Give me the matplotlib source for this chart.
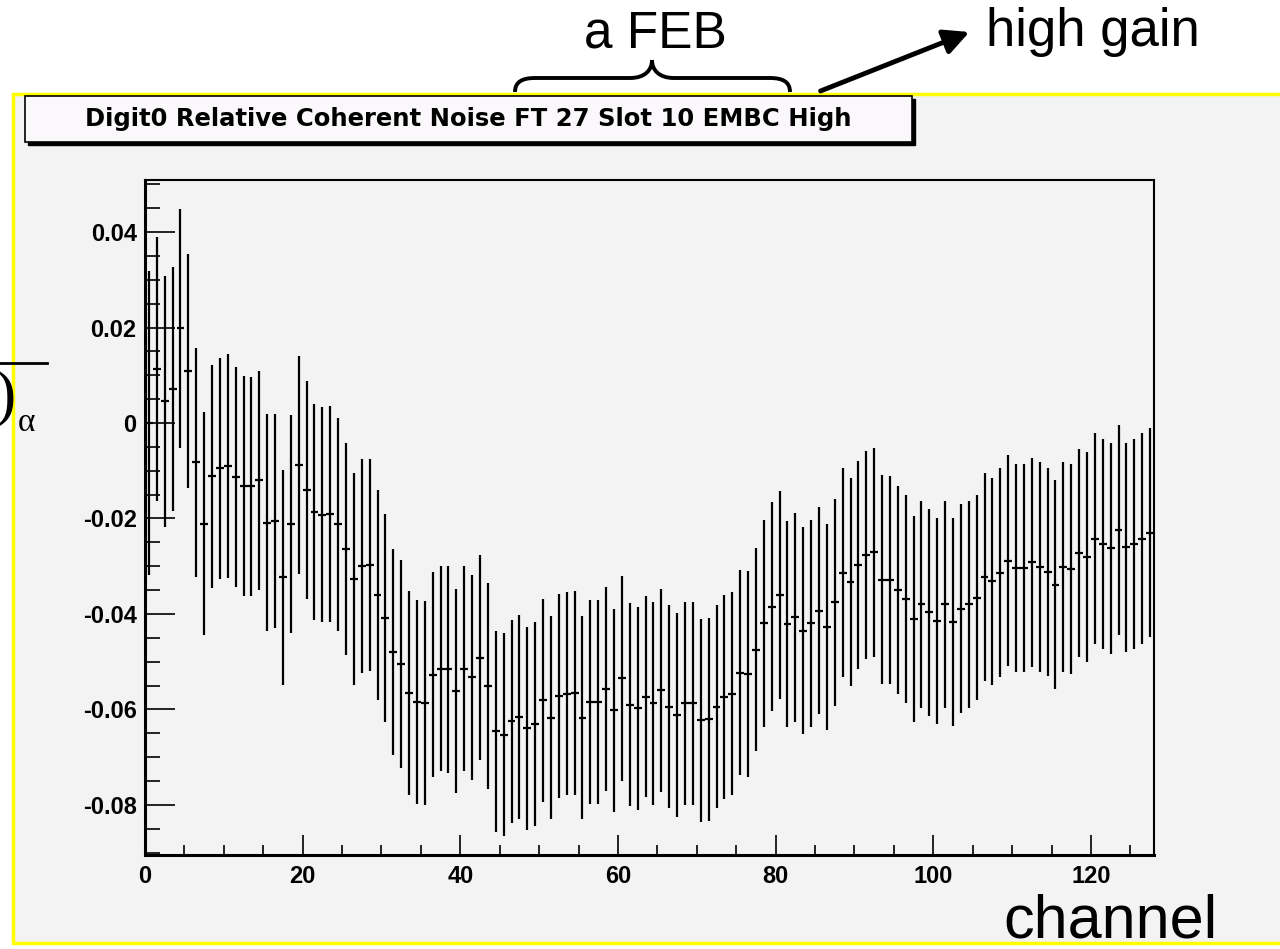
import numpy as np
import matplotlib
matplotlib.use("Agg")
import matplotlib.pyplot as plt
import matplotlib.patches as mpatches
from matplotlib.path import Path
from matplotlib.lines import Line2D
from matplotlib.ticker import MultipleLocator, FixedLocator, FixedFormatter

# relative coherent noise per channel (one FEB, high gain)
ruido = [0.0000, 0.0113, 0.0045, 0.0071, 0.0198, 0.0109, -0.0082, -0.0211, -0.0112, -0.0095,
         -0.0090, -0.0113, -0.0132, -0.0133, -0.0120, -0.0209, -0.0206, -0.0323, -0.0212, -0.0088,
         -0.0140, -0.0187, -0.0192, -0.0191, -0.0212, -0.0263, -0.0327, -0.0299, -0.0298, -0.0361,
         -0.0408, -0.0479, -0.0504, -0.0565, -0.0584, -0.0586, -0.0527, -0.0515, -0.0516, -0.0561,
         -0.0515, -0.0533, -0.0492, -0.0551, -0.0646, -0.0653, -0.0625, -0.0616, -0.0640, -0.0630,
         -0.0581, -0.0617, -0.0572, -0.0567, -0.0566, -0.0617, -0.0584, -0.0584, -0.0557, -0.0602,
         -0.0535, -0.0590, -0.0598, -0.0573, -0.0587, -0.0560, -0.0594, -0.0612, -0.0587, -0.0587,
         -0.0623, -0.0621, -0.0594, -0.0574, -0.0567, -0.0523, -0.0526, -0.0475, -0.0420, -0.0385,
         -0.0360, -0.0421, -0.0407, -0.0435, -0.0420, -0.0393, -0.0428, -0.0376, -0.0314, -0.0333,
         -0.0298, -0.0277, -0.0271, -0.0328, -0.0329, -0.0349, -0.0368, -0.0410, -0.0380, -0.0397,
         -0.0415, -0.0380, -0.0417, -0.0389, -0.0380, -0.0366, -0.0322, -0.0332, -0.0314, -0.0289,
         -0.0304, -0.0304, -0.0292, -0.0302, -0.0313, -0.0339, -0.0302, -0.0306, -0.0272, -0.0281,
         -0.0242, -0.0254, -0.0262, -0.0224, -0.0260, -0.0254, -0.0242, -0.0230]

errores = [0.0318, 0.0277, 0.0263, 0.0256, 0.0251, 0.0245, 0.0240, 0.0233, 0.0233, 0.0231,
           0.0235, 0.0231, 0.0230, 0.0229, 0.0229, 0.0227, 0.0224, 0.0225, 0.0228, 0.0229,
           0.0228, 0.0226, 0.0225, 0.0226, 0.0223, 0.0222, 0.0222, 0.0224, 0.0222, 0.0220,
           0.0218, 0.0216, 0.0218, 0.0214, 0.0214, 0.0214, 0.0214, 0.0215, 0.0217, 0.0214,
           0.0215, 0.0215, 0.0215, 0.0215, 0.0211, 0.0213, 0.0212, 0.0214, 0.0213, 0.0214,
           0.0213, 0.0213, 0.0213, 0.0213, 0.0214, 0.0213, 0.0214, 0.0214, 0.0214, 0.0213,
           0.0215, 0.0213, 0.0212, 0.0211, 0.0213, 0.0213, 0.0213, 0.0214, 0.0213, 0.0213,
           0.0212, 0.0212, 0.0213, 0.0213, 0.0213, 0.0214, 0.0215, 0.0213, 0.0216, 0.0219,
           0.0218, 0.0215, 0.0219, 0.0217, 0.0216, 0.0216, 0.0216, 0.0217, 0.0219, 0.0218,
           0.0218, 0.0218, 0.0219, 0.0218, 0.0218, 0.0218, 0.0218, 0.0216, 0.0217, 0.0217,
           0.0216, 0.0217, 0.0217, 0.0219, 0.0217, 0.0215, 0.0218, 0.0217, 0.0219, 0.0221,
           0.0218, 0.0218, 0.0219, 0.0220, 0.0218, 0.0219, 0.0220, 0.0220, 0.0218, 0.0220,
           0.0220, 0.0220, 0.0221, 0.0220, 0.0219, 0.0220, 0.0220, 0.0219]

canales = np.arange(len(ruido)) + 0.5   # bin centres

y_ticks = [-0.08, -0.06, -0.04, -0.02, 0.0, 0.02, 0.04]
y_etiquetas = ["-0.08", "-0.06", "-0.04", "-0.02", "0", "0.02", "0.04"]
x_ticks = [0, 20, 40, 60, 80, 100, 120]
x_etiquetas = ["0", "20", "40", "60", "80", "100", "120"]

titulo = "Digit0 Relative Coherent Noise FT 27 Slot 10 EMBC High"

W, H = 1280, 949
fondo = "#f3f3f3"
sans = ["Liberation Sans", "DejaVu Sans"]


def px(x, y):
    # pixel (top-left origin) -> figure fraction
    return (x / W, 1 - y / H)


fig = plt.figure(figsize=(W / 100, H / 100), dpi=100)
fig.patch.set_facecolor("white")

# ROOT canvas with yellow border
lienzo = mpatches.Rectangle(px(13, 943), (W + 20) / W, (943 - 94) / H, transform=fig.transFigure,
                            facecolor=fondo, edgecolor="#ffff00", lw=2.5, zorder=-5)
fig.add_artist(lienzo)

ax = fig.add_axes([145 / W, 1 - 855 / H, 1009 / W, 675 / H])
ax.set_facecolor(fondo)
ax.errorbar(canales, ruido, xerr=0.5, yerr=errores, fmt="none", ecolor="k", elinewidth=1.6, capsize=0)

ax.set_xlim(0, 128)
ax.set_ylim(-0.0905, 0.0509)

ax.xaxis.set_major_locator(FixedLocator(x_ticks))
ax.xaxis.set_major_formatter(FixedFormatter(x_etiquetas))
ax.xaxis.set_minor_locator(MultipleLocator(5))
ax.yaxis.set_major_locator(FixedLocator(y_ticks))
ax.yaxis.set_major_formatter(FixedFormatter(y_etiquetas))
ax.yaxis.set_minor_locator(MultipleLocator(0.005))

ax.tick_params(axis="x", which="major", direction="in", length=14.5, width=1.2, pad=7,
               top=False, labelsize=17)
ax.tick_params(axis="x", which="minor", direction="in", length=7.5, width=1.2, top=False)
ax.tick_params(axis="y", which="major", direction="in", length=21.5, width=1.2, pad=6,
               right=False, labelsize=17)
ax.tick_params(axis="y", which="minor", direction="in", length=11, width=1.2, right=False)
for lab in ax.get_xticklabels() + ax.get_yticklabels():
    lab.set_fontweight("bold")
    lab.set_family(sans)
for lado in ["left", "bottom"]:
    ax.spines[lado].set_linewidth(2.2)
for lado in ["top", "right"]:
    ax.spines[lado].set_linewidth(1.5)

# title box with shadow
sombra = mpatches.Rectangle(px(28, 145), (912 - 25) / W, (145 - 99) / H, transform=fig.transFigure,
                            facecolor="k", edgecolor="k", lw=1, zorder=5)
caja = mpatches.Rectangle(px(25, 142), (912 - 25) / W, (142 - 96) / H, transform=fig.transFigure,
                          facecolor="#faf8fb", edgecolor="k", lw=1.2, zorder=6)
fig.add_artist(sombra)
fig.add_artist(caja)
fig.text(*px(468, 119), titulo, ha="center", va="center", fontsize=17.5, fontweight="bold",
         family=["DejaVu Sans"], zorder=7)

# annotations of the slide
fig.text(*px(655, 48), "a FEB", ha="center", va="baseline", fontsize=37, family=sans)
fig.text(*px(1093, 46), "high gain", ha="center", va="baseline", fontsize=38, family=sans)
fig.text(*px(1110, 937), "channel", ha="center", va="baseline", fontsize=44, family=sans)

M, C, L = Path.MOVETO, Path.CURVE4, Path.LINETO
puntos = [(515, 92), (515, 82), (522, 78), (535, 78), (630, 78), (645, 78), (652, 70), (652, 60),
          (652, 70), (659, 78), (674, 78), (770, 78), (783, 78), (790, 82), (790, 92)]
codigos = [M, C, C, C, L, C, C, C, C, C, C, L, C, C, C]
llave = mpatches.PathPatch(Path([px(*p) for p in puntos], codigos), transform=fig.transFigure,
                           facecolor="none", edgecolor="k", lw=2.8)
fig.add_artist(llave)

flecha = mpatches.FancyArrowPatch(px(818, 92), px(972, 31), transform=fig.transFigure,
                                  arrowstyle="-|>", mutation_scale=38, lw=3.5, color="k")
fig.add_artist(flecha)

# cut-off fragment of the y-axis label
fig.add_artist(Line2D([0, 47 / W], [1 - 363 / H] * 2, transform=fig.transFigure, color="k", lw=2))
fig.text(*px(16, 398), ")", ha="right", va="center", fontsize=46, family="Liberation Serif")
fig.text(*px(18, 423), "α", ha="left", va="center", fontsize=24, family="Liberation Serif")

plt.savefig("out.png", dpi=100)
